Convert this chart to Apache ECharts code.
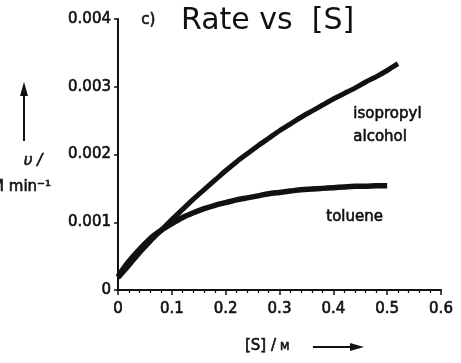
<!DOCTYPE html>
<html>
<head>
<meta charset="utf-8">
<script src="https://cdn.jsdelivr.net/npm/echarts@6/dist/echarts.min.js"></script>
<style>
  html, body { margin: 0; padding: 0; background: #fff; }
  #chart { width: 461px; height: 363px; }
</style>
</head>
<body>
<div id="chart"></div>
<script>
// Substrate concentration [S] / M
const concIso = [0.00, 0.02, 0.04, 0.06, 0.08, 0.10, 0.12, 0.14, 0.16, 0.18, 0.20, 0.22, 0.24, 0.26,
                 0.28, 0.30, 0.32, 0.34, 0.36, 0.38, 0.40, 0.42, 0.44, 0.46, 0.48, 0.50, 0.52];
// Initial rate in isopropyl alcohol (M min^-1)
const rateIso = [0.00018, 0.00036, 0.00055, 0.00072, 0.00088, 0.00104, 0.00119, 0.00134, 0.00148,
                 0.00162, 0.00176, 0.00189, 0.00201, 0.00213, 0.00224, 0.00235, 0.00245, 0.00255,
                 0.00264, 0.00273, 0.00282, 0.0029, 0.00298, 0.00307, 0.00315, 0.00324, 0.00334];

const concTol = [0.00, 0.02, 0.04, 0.06, 0.08, 0.10, 0.12, 0.14, 0.16, 0.18, 0.20, 0.22, 0.24, 0.26,
                 0.28, 0.30, 0.32, 0.34, 0.36, 0.38, 0.40, 0.42, 0.44, 0.46, 0.48, 0.50];
// Initial rate in toluene (M min^-1)
const rateTol = [0.0002, 0.00042, 0.0006, 0.00076, 0.00088, 0.00098, 0.00107, 0.00114, 0.0012,
                 0.00125, 0.00129, 0.00133, 0.00136, 0.00139, 0.00142, 0.00144, 0.00146, 0.00148,
                 0.00149, 0.0015, 0.00151, 0.00152, 0.00153, 0.00153, 0.00154, 0.00154];

const xTicks = [0, 0.1, 0.2, 0.3, 0.4, 0.5, 0.6];
const yTicks = [0, 0.001, 0.002, 0.003, 0.004];

const FONT = 'DejaVu Sans';
const INK = '#111';
// slight outline to give the printed labels a medium weight
const HEAVY = { textBorderColor: INK, textBorderWidth: 0.6 };

const pairs = (xs, ys) => xs.map((x, i) => [x, ys[i]]);

const chart = echarts.init(document.getElementById('chart'), null, { renderer: 'canvas' });

const label = (text, font, extra) =>
  Object.assign({ text, font, fill: INK, stroke: INK, lineWidth: 0.6 }, extra || {});

chart.setOption({
  backgroundColor: '#fff',
  animation: false,
  grid: { left: 118, right: 20, top: 19, bottom: 73, containLabel: false },
  xAxis: {
    type: 'value',
    min: xTicks[0], max: xTicks[xTicks.length - 1], interval: 0.1,
    axisLine: { onZero: false, lineStyle: { color: INK, width: 2 } },
    axisTick: { show: true, inside: false, length: 5, lineStyle: { color: INK, width: 1.5 } },
    minorTick: { show: true, splitNumber: 5, length: 3, lineStyle: { color: INK, width: 1.2 } },
    splitLine: { show: false },
    axisLabel: Object.assign({
      margin: 12, color: INK, fontFamily: FONT, fontSize: 15,
      formatter: v => (v === 0 ? '0' : v.toFixed(1))
    }, HEAVY)
  },
  yAxis: {
    type: 'value',
    min: yTicks[0], max: yTicks[yTicks.length - 1], interval: 0.001,
    axisLine: { onZero: false, lineStyle: { color: INK, width: 2 } },
    axisTick: { show: true, inside: false, length: 4, lineStyle: { color: INK, width: 1.5 } },
    splitLine: { show: false },
    axisLabel: Object.assign({
      margin: 7, color: INK, fontFamily: FONT, fontSize: 15,
      formatter: v => (v === 0 ? '0' : v.toFixed(3))
    }, HEAVY)
  },
  series: [
    {
      name: 'isopropyl alcohol',
      type: 'line',
      data: pairs(concIso, rateIso),
      showSymbol: false,
      smooth: 0.3,
      lineStyle: { color: INK, width: 5 }
    },
    {
      name: 'toluene',
      type: 'line',
      data: pairs(concTol, rateTol),
      showSymbol: false,
      smooth: 0.3,
      lineStyle: { color: INK, width: 5.5 }
    }
  ],
  graphic: [
    // panel tag and handwritten-style heading
    { type: 'text', left: 141, top: 12,
      style: label('c)', '15px "DejaVu Sans"') },
    { type: 'text', left: 181, top: 6,
      style: { text: 'Rate vs  [S]', font: '30px "DejaVu Sans"', fill: INK } },
    // y-axis quantity with upward arrow
    { type: 'line', shape: { x1: 24, y1: 141, x2: 24, y2: 92 },
      style: { stroke: INK, lineWidth: 2 } },
    { type: 'polygon', shape: { points: [[24, 82], [20, 96], [28, 96]] },
      style: { fill: INK } },
    { type: 'text', x: 33, y: 161,
      style: label('υ /', 'italic 15px "DejaVu Sans"', { textAlign: 'center', textVerticalAlign: 'middle' }) },
    { type: 'text', x: 51, y: 187,
      style: label('M min⁻¹', '15px "DejaVu Sans"', { textAlign: 'right', textVerticalAlign: 'middle' }) },
    // x-axis quantity (small-capital molar unit) with rightward arrow
    { type: 'text', x: 245, y: 346,
      style: label('[S] /', '15px "DejaVu Sans"', { textVerticalAlign: 'middle' }) },
    { type: 'text', x: 280, y: 347.5,
      style: label('M', '11px "DejaVu Sans"', { textVerticalAlign: 'middle' }) },
    { type: 'line', shape: { x1: 313, y1: 347, x2: 354, y2: 347 },
      style: { stroke: INK, lineWidth: 2 } },
    { type: 'polygon', shape: { points: [[364, 347], [350, 343], [350, 351]] },
      style: { fill: INK } },
    // series annotations
    { type: 'text', left: 353, top: 103,
      style: label('isopropyl\nalcohol', '15px "DejaVu Sans"', { lineHeight: 23 }) },
    { type: 'text', left: 326, top: 209,
      style: label('toluene', '15px "DejaVu Sans"') }
  ]
});
</script>
</body>
</html>
